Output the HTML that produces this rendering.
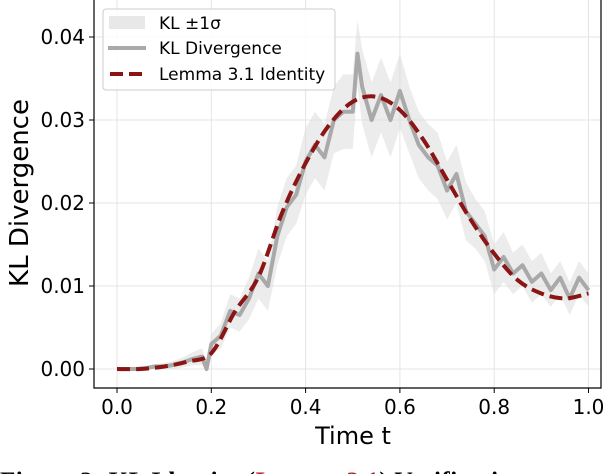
<!DOCTYPE html>
<html><head><meta charset="utf-8"><style>
body{margin:0;background:#fff;width:612px;height:474px;overflow:hidden}
svg{display:block;font-family:"DejaVu Sans","Liberation Sans",sans-serif}
</style></head><body>
<svg id="c" width="612" height="474"></svg>
<script>
const tIdent=[0,0.05,0.1,0.15,0.2,0.25,0.3,0.35,0.4,0.45,0.5,0.55,0.6,0.65,0.7,0.75,0.8,0.85,0.9,0.95,1.0];
const identVals=[0,0,0.0003,0.0009,0.0019,0.0069,0.0111,0.0188,0.0248,0.0294,0.0322,0.0328,0.0312,0.0276,0.0228,0.018,0.0139,0.0107,0.0091,0.0085,0.0091];
const tObs=[0,.02,.04,.06,.08,.10,.12,.14,.16,.18,.19,.20,.22,.24,.26,.28,.30,.32,.34,.36,.38,.40,.42,.44,.46,.48,.50,.51,.52,.54,.56,.58,.60,.62,.64,.66,.68,.70,.72,.74,.76,.78,.80,.82,.84,.86,.88,.90,.92,.94,.96,.98,1.0];
const obsVals=[0,0,0,0.0001,0.0003,0.0003,0.0005,0.0008,0.0012,0.0015,0,0.003,0.004,0.007,0.0065,0.0085,0.0115,0.010,0.016,0.0195,0.021,0.025,0.027,0.0255,0.030,0.031,0.031,0.038,0.034,0.030,0.033,0.030,0.0335,0.030,0.027,0.0255,0.0245,0.0215,0.0235,0.019,0.0175,0.016,0.012,0.0135,0.0115,0.0125,0.0105,0.0115,0.0095,0.011,0.0085,0.011,0.0095];
const sigVals=[0,0,0.0001,0.0002,0.0003,0.0004,0.0005,0.0006,0.0008,0.001,0.001,0.0012,0.0015,0.002,0.002,0.0025,0.003,0.003,0.0035,0.0035,0.0035,0.004,0.004,0.004,0.004,0.0045,0.0045,0.004,0.0045,0.0045,0.0045,0.0045,0.0045,0.004,0.004,0.004,0.004,0.0035,0.0035,0.0035,0.003,0.003,0.003,0.003,0.0025,0.0025,0.0025,0.0025,0.002,0.002,0.002,0.002,0.002];
const xTicks=[0,0.2,0.4,0.6,0.8,1.0];
const xTickLabels=["0.0","0.2","0.4","0.6","0.8","1.0"];
const yTicks=[0,0.01,0.02,0.03,0.04];
const yTickLabels=["0.00","0.01","0.02","0.03","0.04"];
const NS="http://www.w3.org/2000/svg";
const svg=document.getElementById('c');
const X=t=>117+t*471.5;
const Y=v=>369-v*8300;
function el(tag,attrs,parent){const e=document.createElementNS(NS,tag);for(const k in attrs)e.setAttribute(k,attrs[k]);(parent||svg).appendChild(e);return e;}
xTicks.forEach((t,i)=>{const g=el('line',{x1:X(t),x2:X(t),y1:0,y2:388,stroke:'#e4e4e4','stroke-width':1});


const tk=el('line',{x1:X(t),x2:X(t),y1:388,y2:393,stroke:'#000'});


const tx=el('text',{x:X(t),y:414,'font-size':20,'text-anchor':'middle'});tx.textContent=xTickLabels[i];

});
yTicks.forEach((v,i)=>{const g=el('line',{x1:94,x2:601,y1:Y(v),y2:Y(v),stroke:'#e4e4e4','stroke-width':1});


const tk=el('line',{x1:89,x2:94,y1:Y(v),y2:Y(v),stroke:'#000'});


const tx=el('text',{x:85,y:Y(v)+7,'font-size':20,'text-anchor':'end'});tx.textContent=yTickLabels[i];

});
let up=tObs.map((t,i)=>X(t)+','+Y(obsVals[i]+sigVals[i]));
let dn=tObs.map((t,i)=>X(t)+','+Y(Math.max(0,obsVals[i]-sigVals[i]))).reverse();
const band=el('polygon',{points:up.concat(dn).join(' '),fill:'#d9d9d9','fill-opacity':0.5});


const obs=el('polyline',{points:tObs.map((t,i)=>X(t)+','+Y(obsVals[i])).join(' '),fill:'none',stroke:'#a9a9a9','stroke-width':4,'stroke-linejoin':'round'});


let d='M'+X(tIdent[0])+','+Y(identVals[0]);
const P=tIdent.map((t,i)=>[X(t),Y(identVals[i])]);
for(let i=0;i<P.length-1;i++){const p0=P[Math.max(0,i-1)],p1=P[i],p2=P[i+1],p3=P[Math.min(P.length-1,i+2)];
d+=` C${p1[0]+(p2[0]-p0[0])/6},${p1[1]+(p2[1]-p0[1])/6} ${p2[0]-(p3[0]-p1[0])/6},${p2[1]-(p3[1]-p1[1])/6} ${p2[0]},${p2[1]}`;}
const id=el('path',{d:d,fill:'none',stroke:'#8b1414','stroke-width':4,'stroke-dasharray':'13 6'});


const fr=el('path',{d:'M94,0 V388 H601 V0',fill:'none',stroke:'#000','stroke-width':1.2});


const xl=el('text',{x:353,y:444,'font-size':24,'text-anchor':'middle'});xl.textContent='Time t';


const yl=el('text',{x:0,y:0,'font-size':26,'text-anchor':'middle',transform:'translate(28,193) rotate(-90)'});yl.textContent='KL Divergence';


const lg=el('g',{});


el('rect',{x:103,y:9,width:232,height:81,rx:3,fill:'#fff','fill-opacity':0.85,stroke:'#ccc'},lg);
el('rect',{x:109,y:16,width:36,height:13,fill:'#e8e8e8'},lg);
el('line',{x1:108,x2:146,y1:48,y2:48,stroke:'#a9a9a9','stroke-width':4},lg);
el('line',{x1:110,x2:146,y1:74,y2:74,stroke:'#8b1414','stroke-width':4,'stroke-dasharray':'13 6'},lg);
[['KL ±1σ',29,'legend-entry-sigma'],['KL Divergence',54,'legend-entry-kl'],['Lemma 3.1 Identity',80,'legend-entry-identity']].forEach(a=>{
const t=el('text',{x:159,y:a[1],'font-size':17},lg);t.textContent=a[0];

});
const cap=el('text',{x:0,y:489,'font-size':25,'font-weight':'bold','font-family':'Liberation Serif, serif','letter-spacing':'0.5'});
cap.innerHTML='Figure 2: KL Identity (<tspan fill="#b22222">Lemma 3.1</tspan>) Verification';


</script>
</body></html>
